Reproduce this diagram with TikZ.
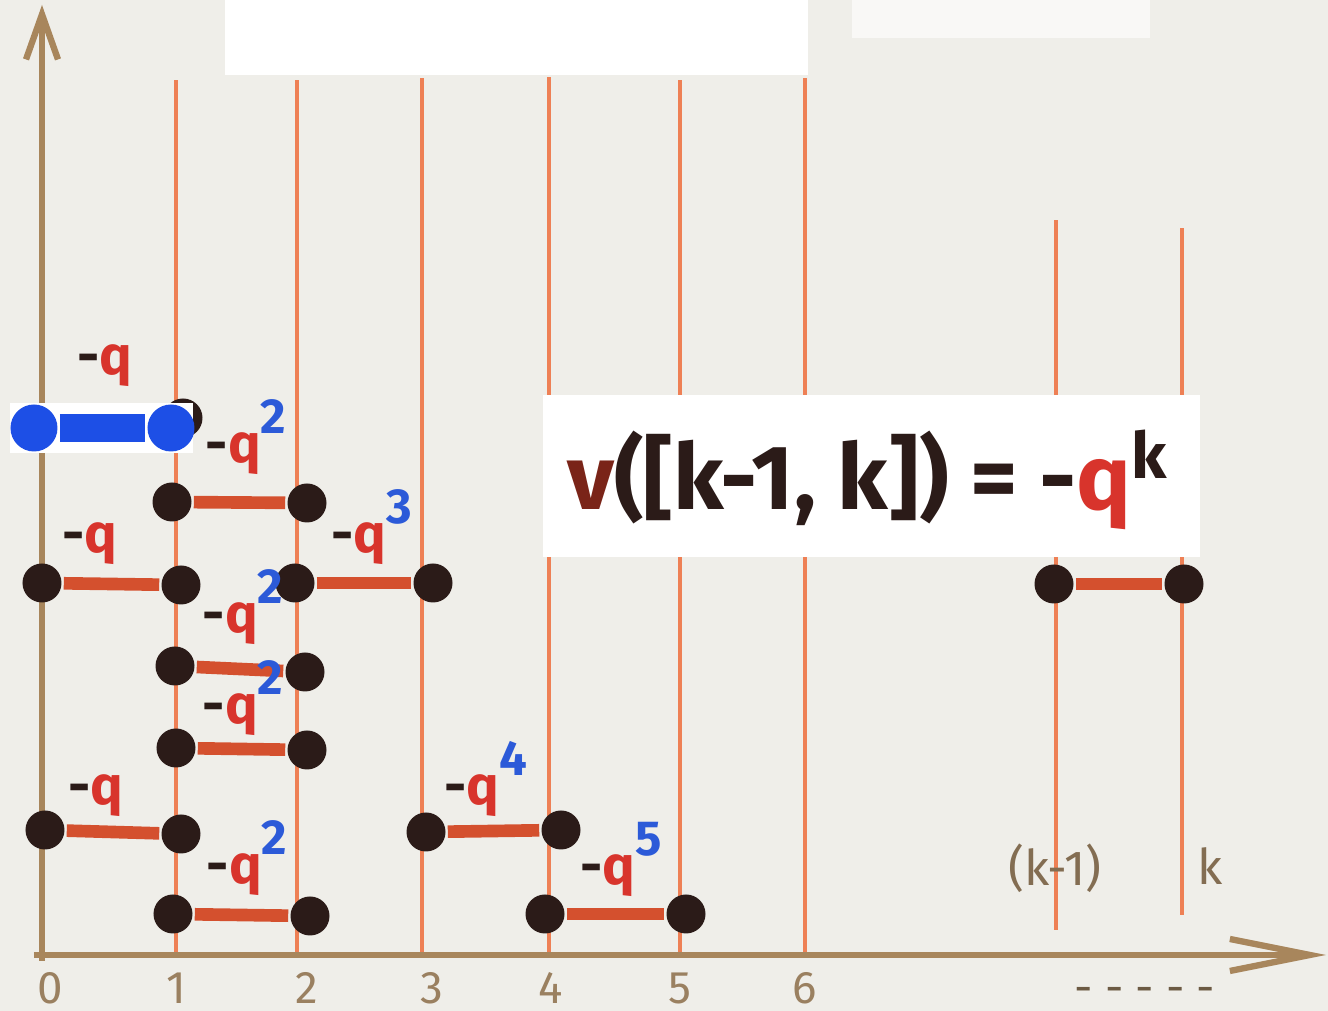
\documentclass[tikz,border=0pt]{standalone}
\usepackage{fontspec}
\setmainfont{Fira Sans}
\usetikzlibrary{arrows.meta}
\definecolor{paper}{HTML}{EFEEE9}
\definecolor{axisbrown}{HTML}{A8865C}
\definecolor{gridorange}{HTML}{EE8055}
\definecolor{barred}{HTML}{D4502E}
\definecolor{dotblack}{HTML}{2B1B18}
\definecolor{qred}{HTML}{D8342C}
\definecolor{expblue}{HTML}{2C5AD8}
\definecolor{markerblue}{HTML}{1D4FE6}
\definecolor{ticktan}{HTML}{9A8060}
\definecolor{vmaroon}{HTML}{7A2418}

\newcommand{\qpow}[1]{{\color{dotblack}-}{\color{qred}q}\raisebox{0.55em}{\color{expblue}\fontsize{14}{14}\selectfont#1}}

\begin{document}
\begin{tikzpicture}[line width=1.3pt,
  dot/.style={circle, fill=dotblack, minimum size=3.9mm, inner sep=0pt},
  bluedot/.style={circle, fill=markerblue, minimum size=4.7mm, inner sep=0pt},
  bar/.style={barred, line width=3.6pt},
  qlabel/.style={font=\fontsize{15.5}{17}\selectfont\bfseries, anchor=base, inner sep=0pt},
  ticklabel/.style={font=\fontsize{13}{15}\selectfont, text=ticktan}]

% Background
\fill[paper] (-0.42,-0.56) rectangle (12.86,9.55);
\useasboundingbox (-0.42,-0.56) rectangle (12.86,9.55);

% Vertical lines at the integers
\foreach \x/\top in {1.34/8.75, 2.55/8.75, 3.80/8.77, 5.07/8.78, 6.38/8.75, 7.63/8.77} {
  \draw[gridorange] (\x,0) -- (\x,\top);
}
\draw[gridorange] (10.14,0.25) -- (10.14,7.35);
\draw[gridorange] (11.40,0.40) -- (11.40,7.27);

% Axes
\coordinate (O) at (0,0);
\coordinate (ytip) at (0,9.50);
\coordinate (xfoot) at (-0.08,0);
\coordinate (xtip) at (12.84,0);
\draw[axisbrown, line width=1.8pt, -{Straight Barb[length=4.5mm, width=3.2mm]}] (0,-0.06) -- (ytip);
\draw[axisbrown, line width=1.8pt, -{Straight Barb[length=8mm, width=3.2mm]}] (xfoot) -- (xtip);

% Tick labels
\foreach \x/\n in {0.08/0, 1.34/1, 2.65/2, 3.90/3, 5.09/4, 6.38/5, 7.63/6} {
  \node[ticklabel] (t\n) at (\x,-0.33) {\n};
}
\node[ticklabel, text=ticktan!85!black, font=\fontsize{14}{16}\selectfont] (tkm) at (10.13,0.87) {(k-1)};
\node[ticklabel, text=ticktan!85!black, font=\fontsize{14}{16}\selectfont] (tk) at (11.68,0.89) {k};
\node[ticklabel, text=ticktan!70!black] (tdots) at (11.03,-0.40) {- - - - -};

% Intervals: name / left dot / right dot / label / exponent
\foreach \i/\xa/\ya/\xb/\yb/\lx/\ly/\e in {
  a/1.30/4.53/2.65/4.52/2.04/4.92/2,
  b/0/3.72/1.39/3.70/0.48/4.02/{},
  c/2.53/3.72/3.91/3.72/3.30/4.02/3,
  d/1.33/2.89/2.63/2.83/2.01/3.22/2,
  e/1.34/2.07/2.65/2.05/2.01/2.31/2,
  f/0.03/1.25/1.39/1.21/0.54/1.50/{},
  g/1.31/0.41/2.68/0.39/2.05/0.71/2,
  h/3.84/1.23/5.19/1.25/4.44/1.50/4,
  m/5.03/0.41/6.44/0.41/5.79/0.70/5} {
  \node[dot] (\i L) at (\xa,\ya) {};
  \node[dot] (\i R) at (\xb,\yb) {};
  \draw[bar] (\i L) -- (\i R);
  \node[qlabel] (\i q) at (\lx,\ly) {\qpow{\e}};
}

% the interval [k-1,k]
\node[dot] (kL) at (10.12,3.71) {};
\node[dot] (kR) at (11.42,3.71) {};
\draw[bar] (kL) -- (kR);

% Top interval, painted over in blue
\node[dot] (hid) at (1.41,5.37) {};
\fill[white] (-0.32,5.02) rectangle (1.51,5.52);
\node[bluedot] (bL) at (-0.08,5.27) {};
\node[bluedot] (bR) at (1.29,5.27) {};
\draw[markerblue, line width=8pt] (bL) -- (bR);
\node[qlabel] (bq) at (0.63,5.80) {\qpow{}};

% White paper patches
\fill[white] (1.83,8.80) rectangle (7.66,9.55);
\fill[white!60!paper] (8.10,9.17) rectangle (11.08,9.55);
\fill[white] (5.01,3.98) rectangle (11.58,5.60);

% Formula
\node[font=\fontsize{26}{28}\selectfont\bfseries, text=dotblack] (vform) at (8.26,4.75)
  {{\color{vmaroon}v}([k-1, k]) = -{\color{qred}q}\textsuperscript{k}};

\end{tikzpicture}
\end{document}
